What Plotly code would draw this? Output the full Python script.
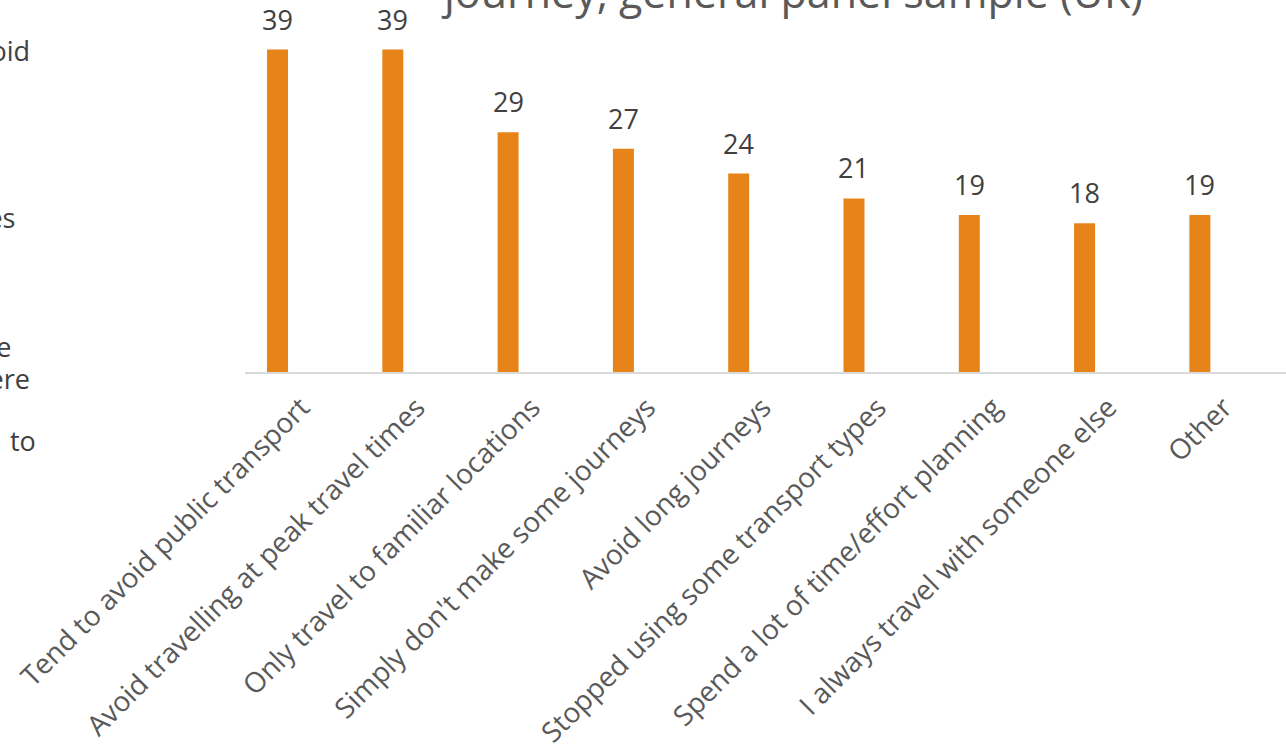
import plotly.graph_objects as go

# Survey responses (%), general panel sample (UK)
categories = [
    "Tend to avoid public transport",
    "Avoid travelling at peak travel times",
    "Only travel to familiar locations",
    "Simply don't make some journeys",
    "Avoid long journeys",
    "Stopped using some transport types",
    "Spend a lot of time/effort planning",
    "I always travel with someone else",
    "Other",
]
values = [39, 39, 29, 27, 24, 21, 19, 18, 19]

# Side text column (continues off the left edge of the page)
side_text = ["avoid", "times", "the", "where", "to"]
side_text_y = [51, 217, 346, 378, 440]
side_text_right = [32, 17, 13, 32, 38]

BAR_COLOR = "#E6841A"
LABEL_COLOR = "#404040"
TICK_COLOR = "#595959"
FONT = "Open Sans"

W, H = 1286, 744
ML, MB = 245, 372
PW, PH = W - ML, H - MB


def px_to_paper(px, py):
    """Convert page pixel position to plot-area paper coordinates."""
    return (px - ML) / PW, 1 - py / PH


xs = list(range(len(categories)))

fig = go.Figure()
fig.add_trace(go.Bar(
    x=xs,
    y=values,
    width=0.182,
    marker=dict(color=BAR_COLOR, line=dict(width=0)),
    hoverinfo="skip",
))

annotations = []
for xv, yv in zip(xs, values):
    annotations.append(dict(
        x=xv, y=yv, xref="x", yref="y",
        text=str(yv), showarrow=False,
        yanchor="bottom", yshift=10,
        font=dict(family=FONT, size=27, color=LABEL_COLOR),
    ))

for t, yy, xr in zip(side_text, side_text_y, side_text_right):
    ax, ay = px_to_paper(xr, yy)
    annotations.append(dict(
        x=ax, y=ay, xref="paper", yref="paper",
        xanchor="right", yanchor="middle",
        text=t, showarrow=False,
        font=dict(family=FONT, size=27, color=LABEL_COLOR),
    ))

# Chart title (runs past the top of the page)
tx, ty = px_to_paper(792, 0)
annotations.append(dict(
    x=tx, y=ty, xref="paper", yref="paper",
    xanchor="center", yanchor="middle",
    text="journey, general panel sample (UK)", showarrow=False,
    font=dict(family=FONT, size=43, color="#595959"),
    yshift=9,
))

fig.update_layout(
    width=W, height=H,
    margin=dict(l=ML, r=0, t=0, b=MB, pad=0),
    paper_bgcolor="white",
    plot_bgcolor="white",
    showlegend=False,
    annotations=annotations,
    font=dict(family=FONT, color=TICK_COLOR),
)

fig.update_xaxes(
    range=[-0.282, 8.747],
    tickmode="array",
    tickvals=xs,
    ticktext=categories,
    tickangle=-45,
    tickfont=dict(family=FONT, size=28, color=TICK_COLOR),
    ticklabelshift=24,
    ticklabelstandoff=6,
    automargin=False,
    showline=True, linecolor="#D9D9D9", linewidth=2,
    showgrid=False, zeroline=False, ticks="",
    fixedrange=True,
)
fig.update_yaxes(
    range=[0, 45],
    visible=False,
    automargin=False,
    fixedrange=True,
)

fig.write_html("out.html")
